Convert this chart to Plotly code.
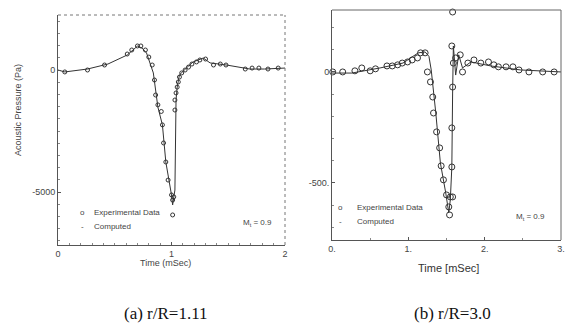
import plotly.graph_objects as go

# ---------------- data ----------------
comp_a_t = [0, 0.06, 0.26, 0.44, 0.61, 0.70, 0.74, 0.78, 0.84, 0.88, 0.92, 0.95, 1.00, 1.01,
            1.03, 1.04, 1.05, 1.07, 1.14, 1.19, 1.28, 1.34, 1.49, 1.69, 1.82, 2.0]
comp_a_p = [0, -80, 40, 245, 615, 980, 900, 700, -120, -1520, -2250, -3770, -5120, -5530,
            -4920, -1230, -700, -200, 120, 330, 490, 290, 200, 40, 40, 80]

exp_a_t = [0.06, 0.26, 0.41, 0.61, 0.65, 0.70, 0.73, 0.77, 0.80, 0.83, 0.85, 0.86, 0.88, 0.91,
           0.92, 0.93, 0.95, 0.97, 1.00, 1.01, 1.01, 1.02, 1.03, 1.03, 1.04, 1.05, 1.06, 1.07,
           1.09, 1.12, 1.15, 1.18, 1.22, 1.25, 1.30, 1.37, 1.43, 1.48, 1.65, 1.71, 1.77, 1.85, 1.94]
exp_a_p = [-80, 0, 205, 655, 820, 985, 985, 820, 530, 205, -410, -1025, -1430, -1700,
           -2250, -2990, -3770, -4510, -5120, -5330, -5940, -5200, -1640, -1230, -940, -700, -490, -290,
           -120, 0, 120, 245, 330, 410, 450, 205, 245, 205, 40, 80, 80, 40, 80]

comp_b_t = [0, 0.26, 0.63, 0.93, 1.13, 1.22, 1.27, 1.30, 1.36, 1.42, 1.49, 1.53, 1.55, 1.57,
            1.58, 1.59, 1.62, 1.66, 1.71, 1.82, 2.08, 2.47, 3.0]
comp_b_p = [-5, -5, 18, 40, 86, 90, 70, 9, -185, -410, -545, -635, -576, -428,
            -95, 117, -14, 77, 18, 45, 27, 9, 0]

exp_b_t = [-0.07, 0.01, 0.14, 0.30, 0.39, 0.50, 0.57, 0.72, 0.79, 0.86, 0.92, 0.99, 1.05, 1.12,
           1.16, 1.22, 1.25, 1.29, 1.32, 1.33, 1.37, 1.41, 1.43, 1.46, 1.50, 1.53, 1.54, 1.55,
           1.58, 1.57, 1.57, 1.58, 1.57, 1.59, 1.62, 1.68, 1.71, 1.78, 1.86, 1.95, 2.05, 2.12,
           2.18, 2.28, 2.37, 2.45, 2.58, 2.76, 2.91, 1.58]
exp_b_p = [-23, 0, 0, 5, 18, 5, 14, 27, 27, 32, 40, 45, 54, 63,
           86, 86, 0, -45, -113, -185, -270, -342, -423, -486, -554, -608, -644, -563,
           -563, -428, -252, -68, 117, 40, 63, 77, 0, 40, 54, 40, 45, 32,
           23, 23, 23, 9, 0, 0, 0, 270]

xticks_a = [0, 1, 2]
xtick_text_a = ["0", "1", "2"]
yticks_a = [0, -5000]
ytick_text_a = ["0", "-5000"]
xticks_b = [0, 1, 2, 3]
xtick_text_b = ["0.", "1.", "2.", "3."]
yticks_b = [0, -500]
ytick_text_b = ["0", "-500."]

# ---------------- figure ----------------
W, H = 573, 333
def px(x):
    return x / W
def py(y):
    return 1 - y / H

fig = go.Figure()
ink = "#333333"

fig.add_trace(go.Scatter(x=comp_a_t, y=comp_a_p, mode="lines",
                         line=dict(color=ink, width=1), xaxis="x", yaxis="y",
                         showlegend=False))
fig.add_trace(go.Scatter(x=exp_a_t, y=exp_a_p, mode="markers",
                         marker=dict(symbol="circle-open", size=4, color=ink, line=dict(width=1)),
                         xaxis="x", yaxis="y", showlegend=False, cliponaxis=False))
fig.add_trace(go.Scatter(x=comp_b_t, y=comp_b_p, mode="lines",
                         line=dict(color=ink, width=1), xaxis="x2", yaxis="y2",
                         showlegend=False))
fig.add_trace(go.Scatter(x=exp_b_t, y=exp_b_p, mode="markers",
                         marker=dict(symbol="circle-open", size=6, color=ink, line=dict(width=1)),
                         xaxis="x2", yaxis="y2", showlegend=False, cliponaxis=False))

tickfont = dict(family="Liberation Sans, Arial", size=9, color="#444")
axcommon = dict(showgrid=False, zeroline=False, showline=True, linecolor="#555",
                linewidth=1, ticks="inside", ticklen=3, tickcolor="#555",
                tickfont=tickfont, automargin=False)

fig.update_layout(
    width=W, height=H, margin=dict(l=0, r=0, t=0, b=0),
    paper_bgcolor="white", plot_bgcolor="white",
    xaxis=dict(domain=[px(58), px(285)], range=[0, 2], anchor="y",
               tickvals=xticks_a, ticktext=xtick_text_a,
               minor=dict(dtick=0.1, ticks="inside", ticklen=2, tickcolor="#888"), **axcommon),
    yaxis=dict(domain=[py(245), py(15)], range=[-7172, 2254], anchor="x",
               tickvals=yticks_a, ticktext=ytick_text_a,
               minor=dict(dtick=500, ticks="inside", ticklen=2, tickcolor="#888"), **axcommon),
    xaxis2=dict(domain=[px(332), px(561)], range=[0, 3], anchor="y2",
                tickvals=xticks_b, ticktext=xtick_text_b,
                minor=dict(dtick=0.5, ticks="inside", ticklen=2, tickcolor="#888"), **axcommon),
    yaxis2=dict(domain=[py(240), py(10)], range=[-757, 279], anchor="x2",
                tickvals=yticks_b, ticktext=ytick_text_b,
                minor=dict(dtick=100, ticks="inside", ticklen=2, tickcolor="#888"), **axcommon),
)

# dotted top / right frame edges (scan-like)
fig.add_shape(type="line", xref="x domain", yref="y domain", x0=0, x1=1, y0=1, y1=1,
              line=dict(color="#777", width=1, dash="dot"))
fig.add_shape(type="line", xref="x domain", yref="y domain", x0=1, x1=1, y0=0, y1=1,
              line=dict(color="#777", width=1, dash="dot"))
fig.add_shape(type="line", xref="x2 domain", yref="y2 domain", x0=0, x1=1, y0=1, y1=1,
              line=dict(color="#666", width=1))
fig.add_shape(type="line", xref="x2 domain", yref="y2 domain", x0=1, x1=1, y0=0, y1=1,
              line=dict(color="#666", width=1))

small = dict(family="Liberation Sans, Arial", size=8, color="#444")
anns = [
    # axis titles
    dict(x=px(165), y=py(263), text="Time (mSec)", font=dict(family="Liberation Sans, Arial", size=9, color="#444")),
    dict(x=px(448), y=py(268), text="Time [mSec]", font=dict(family="Liberation Sans, Arial", size=11, color="#333")),
    dict(x=px(18), y=py(110), text="Acoustic Pressure (Pa)", textangle=-90,
         font=dict(family="Liberation Sans, Arial", size=9, color="#444")),
    # captions
    dict(x=px(166), y=py(313), text="(a) r/R=1.11", font=dict(family="Liberation Serif, Times New Roman", size=17, color="#111")),
    dict(x=px(452), y=py(313), text="(b) r/R=3.0", font=dict(family="Liberation Serif, Times New Roman", size=17, color="#111")),
    # legend (a)
    dict(x=px(82), y=py(212), text="o", font=small),
    dict(x=px(92), y=py(212), text="Experimental Data", font=small, xanchor="left"),
    dict(x=px(82), y=py(226), text="-", font=small),
    dict(x=px(92), y=py(226), text="Computed", font=small, xanchor="left"),
    dict(x=px(257), y=py(223), text="M<sub>t</sub> = 0.9", font=small),
    # legend (b)
    dict(x=px(340), y=py(207), text="o", font=small),
    dict(x=px(355), y=py(207), text="Experimental Data", font=small, xanchor="left"),
    dict(x=px(340), y=py(221), text="-", font=small),
    dict(x=px(355), y=py(221), text="Computed", font=small, xanchor="left"),
    dict(x=px(530), y=py(217), text="M<sub>t</sub> = 0.9", font=small),
]
for a in anns:
    a.setdefault("xref", "paper")
    a.setdefault("yref", "paper")
    a.setdefault("showarrow", False)
    a.setdefault("xanchor", "center")
    a.setdefault("yanchor", "middle")
fig.update_layout(annotations=anns)

fig.write_html("out.html", config={"displayModeBar": False},
               post_script="document.body.style.margin='0';document.body.style.padding='0';")
